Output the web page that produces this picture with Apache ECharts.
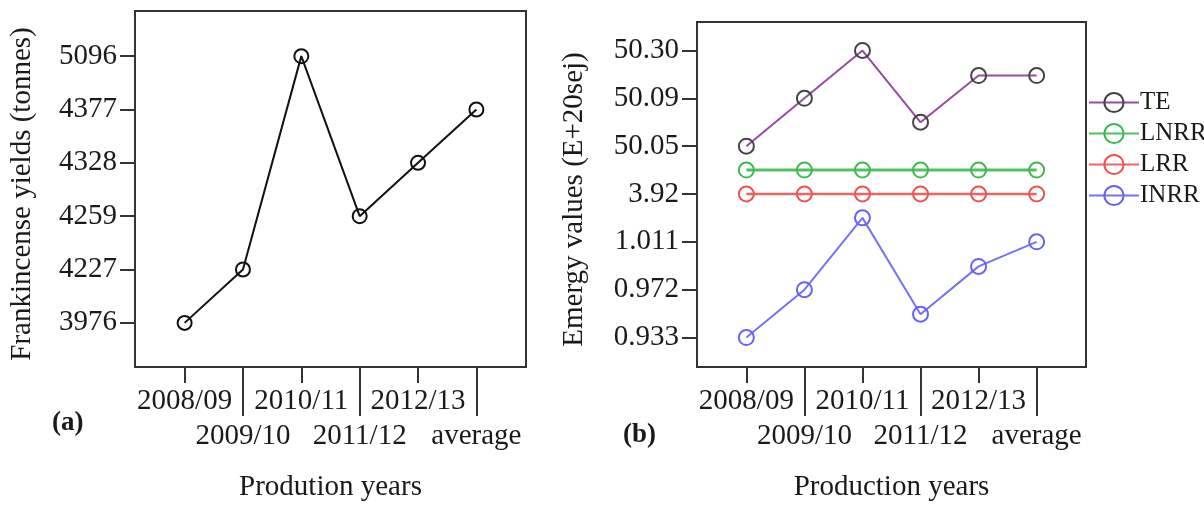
<!DOCTYPE html>
<html>
<head>
<meta charset="utf-8">
<script src="https://cdn.jsdelivr.net/npm/echarts@6/dist/echarts.min.js"></script>
<style>
html,body{margin:0;padding:0;background:#fff;}
#c{width:1204px;height:507px;}
</style>
</head>
<body>
<div id="c"></div>
<script>
// ---- data ----
const categories = ['2008/09', '2009/10', '2010/11', '2011/12', '2012/13', 'average'];

// panel (a): frankincense yields (tonnes)
const yieldTicks = [3976, 4227, 4259, 4328, 4377, 5096];
const yieldTickLabels = ['3976', '4227', '4259', '4328', '4377', '5096'];
const yields = [3976, 4227, 5096, 4259, 4328, 4377];

// panel (b): emergy values (E+20sej)
const emergyTicks = [0.933, 0.972, 1.011, 3.92, 50.05, 50.09, 50.30];
const emergyTickLabels = ['0.933', '0.972', '1.011', '3.92', '50.05', '50.09', '50.30'];
const seriesNames = ['TE', 'LNRR', 'LRR', 'INRR'];
const TE = [50.05, 50.09, 50.30, 50.07, 50.19, 50.19];
const LNRR = [26.98, 26.98, 26.98, 26.98, 26.98, 26.98];
const LRR = [3.92, 3.92, 3.92, 3.92, 3.92, 3.92];
const INRR = [0.933, 0.972, 2.47, 0.952, 0.991, 1.011];

// ---- ordinal (broken) axis mapping: value -> position between labelled ticks ----
function ordinal(v, ticks) {
  for (let i = 0; i < ticks.length - 1; i++) {
    if (v >= ticks[i] && v <= ticks[i + 1]) {
      return i + (v - ticks[i]) / (ticks[i + 1] - ticks[i]);
    }
  }
  return v < ticks[0] ? 0 : ticks.length - 1;
}
function pts(values, ticks) {
  return values.map((v, i) => [i, ordinal(v, ticks)]);
}

const FONT = 'Liberation Serif';
const TXT = '#1a1a1a';
const FRAME = '#333';

const evenIdx = categories.map((c, i) => i).filter(i => i % 2 === 0);
const oddIdx = categories.map((c, i) => i).filter(i => i % 2 === 1);
const catFmt = v => categories[Math.round(v)] || '';

function xAxes(gridIndex, name) {
  const base = {
    type: 'value', gridIndex: gridIndex, position: 'bottom',
    min: -0.85, max: 5.85,
    axisLine: { show: false, onZero: false },
    splitLine: { show: false }
  };
  return [
    Object.assign({}, base, {
      axisTick: { show: true, inside: false, length: 16, customValues: evenIdx, lineStyle: { color: FRAME, width: 2 } },
      axisLabel: { customValues: evenIdx, formatter: catFmt, margin: 20, fontFamily: FONT, fontSize: 29, color: TXT }
    }),
    Object.assign({}, base, {
      name: name, nameLocation: 'middle', nameGap: 106,
      nameTextStyle: { fontFamily: FONT, fontSize: 29, color: TXT },
      axisTick: { show: true, inside: false, length: 49, customValues: oddIdx, lineStyle: { color: FRAME, width: 2 } },
      axisLabel: { customValues: oddIdx, formatter: catFmt, margin: 55, fontFamily: FONT, fontSize: 29, color: TXT }
    })
  ];
}

function yAxis(gridIndex, min, max, labels, name, gap) {
  const idx = labels.map((l, i) => i);
  return {
    type: 'value', gridIndex: gridIndex, min: min, max: max, position: 'left',
    name: name, nameLocation: 'middle', nameGap: gap,
    nameTextStyle: { fontFamily: FONT, fontSize: 29, color: TXT, padding: [0, 10, 0, 0] },
    axisLine: { show: false, onZero: false },
    splitLine: { show: false },
    axisTick: { show: true, length: 15, customValues: idx, lineStyle: { color: FRAME, width: 2 } },
    axisLabel: { customValues: idx, formatter: v => labels[Math.round(v)] || '', margin: 18, fontFamily: FONT, fontSize: 29, color: TXT }
  };
}

const lineColors = ['#8b3a96', '#3dba4d', '#f05252', '#6464f2'];
const symColors = ['#444444', '#3dba4d', '#f05252', '#6464f2'];
const lineWidths = [2, 3, 2.5, 2];
const rightData = [TE, LNRR, LRR, INRR];

const series = [{
  type: 'line', name: 'yields', xAxisIndex: 0, yAxisIndex: 0,
  data: pts(yields, yieldTicks),
  symbol: 'circle', symbolSize: 14,
  itemStyle: { color: 'rgba(0,0,0,0)', borderColor: '#111', borderWidth: 2 },
  lineStyle: { color: '#111', width: 2 },
  emphasis: { disabled: true }, animation: false
}];
seriesNames.forEach((n, k) => {
  series.push({
    type: 'line', name: n, xAxisIndex: 2, yAxisIndex: 1,
    data: pts(rightData[k], emergyTicks),
    symbol: 'circle', symbolSize: 15,
    itemStyle: { color: 'rgba(0,0,0,0)', borderColor: symColors[k], borderWidth: 2 },
    lineStyle: { color: lineColors[k], width: lineWidths[k], opacity: 0.9 },
    emphasis: { disabled: true }, animation: false
  });
});

const chart = echarts.init(document.getElementById('c'), null, { renderer: 'canvas' });
chart.setOption({
  animation: false,
  backgroundColor: '#fff',
  grid: [
    { left: 135, top: 11, width: 391, height: 363, show: true, borderColor: FRAME, borderWidth: 2, backgroundColor: 'transparent', containLabel: false },
    { left: 697, top: 22, width: 389, height: 351, show: true, borderColor: FRAME, borderWidth: 2, backgroundColor: 'transparent', containLabel: false }
  ],
  xAxis: xAxes(0, 'Prodution years').concat(xAxes(1, 'Production years')),
  yAxis: [
    yAxis(0, -0.827, 5.846, yieldTickLabels, 'Frankincense yields (tonnes)', 98),
    yAxis(1, -0.616, 6.596, emergyTickLabels, 'Emergy values (E+20sej)', 108)
  ],
  legend: {
    data: seriesNames, orient: 'vertical', left: 1083, top: 85,
    itemWidth: 50, itemHeight: 24, itemGap: 6,
    textStyle: { fontFamily: FONT, fontSize: 25, color: TXT, padding: [0, 0, 0, -4] },
    selectedMode: false
  },
  graphic: [
    { type: 'text', left: 52, top: 410, style: { text: '(a)', font: 'bold 27px "Liberation Serif"', fill: TXT } },
    { type: 'text', left: 623, top: 422, style: { text: '(b)', font: 'bold 27px "Liberation Serif"', fill: TXT } }
  ],
  series: series
});
</script>
</body>
</html>
